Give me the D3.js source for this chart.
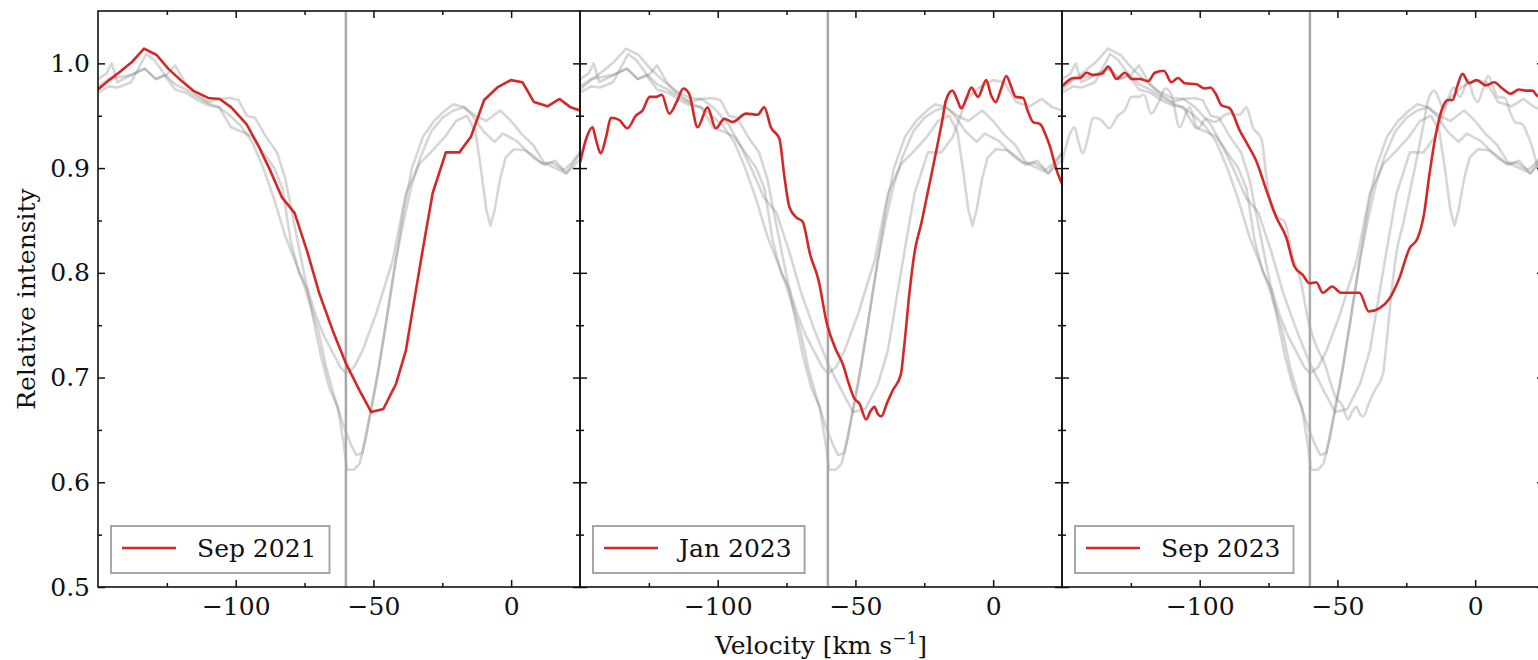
<!DOCTYPE html>
<html>
<head>
<meta charset="utf-8">
<script src="https://cdn.jsdelivr.net/npm/d3@7"></script>
<style>
  body { margin: 0; background: #fff; overflow: hidden; }
  svg { display: block; font-family: "DejaVu Serif", serif; }
</style>
</head>
<body>
<svg id="chart" width="1538" height="660"></svg>
<script>
// axis ranges and ticks
const velDomain = [-150, 25];
const intDomain = [0.5, 1.05];
const xMajor = [-100, -50, 0];
const xMinor = [-125, -75, -25];
const yMajor = [0.5, 0.6, 0.7, 0.8, 0.9, 1.0];
const yMinor = [0.55, 0.65, 0.75, 0.85, 0.95];
const refVelocity = -60;

// older epochs, always shown in gray
const baseDeep = [[-150,0.985],[-147,0.99],[-145,1.0],[-143,0.982],[-140,0.986],[-137,0.99],[-133,0.995],[-129,0.985],[-125,0.989],[-122,0.998],[-118,0.98],[-114,0.97],[-110,0.963],[-106,0.966],[-102,0.967],[-99,0.965],[-96,0.95],[-93,0.948],[-89,0.93],[-85,0.915],[-82,0.89],[-79,0.85],[-76,0.81],[-72,0.758],[-69,0.72],[-66,0.69],[-63,0.672],[-61,0.64],[-59.5,0.612],[-57,0.612],[-55,0.618],[-52.7,0.643],[-49,0.694],[-45.4,0.752],[-42,0.81],[-39,0.86],[-36,0.9],[-32,0.93],[-28,0.945],[-24,0.955],[-21,0.961],[-17,0.958],[-13,0.95],[-9,0.945],[-4,0.955],[0,0.945],[4,0.932],[8,0.922],[12,0.905],[16,0.9],[20,0.895],[25,0.908]];
const baseMid = [[-150,0.972],[-146,0.978],[-142.8,0.977],[-138,0.982],[-132.5,1.009],[-129.5,1.003],[-126,0.99],[-122,0.98],[-118,0.975],[-114,0.968],[-110,0.962],[-106,0.958],[-102,0.95],[-98,0.94],[-94,0.925],[-90,0.9],[-86,0.87],[-82,0.835],[-79,0.815],[-76,0.795],[-73,0.77],[-70,0.745],[-67.2,0.71],[-64,0.68],[-61,0.655],[-58,0.635],[-56.3,0.626],[-54,0.628],[-51.4,0.663],[-48,0.71],[-45,0.76],[-42,0.81],[-39,0.85],[-36,0.885],[-33,0.91],[-29,0.935],[-25,0.948],[-21,0.955],[-17,0.958],[-14,0.95],[-10,0.935],[-6,0.925],[-3,0.933],[2,0.926],[8,0.91],[12,0.903],[16,0.907],[20,0.895],[25,0.914]];
const baseShallow = [[-150,0.978],[-146,0.985],[-142,0.987],[-138,0.989],[-133,0.995],[-129,0.985],[-126,0.989],[-122,0.975],[-118,0.972],[-114,0.965],[-110,0.96],[-106,0.958],[-101.7,0.939],[-98,0.935],[-94,0.93],[-90,0.915],[-86,0.9],[-83,0.88],[-80,0.83],[-77,0.8],[-74,0.785],[-71,0.76],[-68,0.74],[-65,0.725],[-62,0.71],[-60,0.704],[-57,0.71],[-53.9,0.726],[-49,0.761],[-43,0.812],[-38.2,0.876],[-33.3,0.904],[-28.5,0.917],[-24,0.93],[-20,0.945],[-16,0.95],[-13,0.935],[-11,0.9],[-9,0.86],[-7.5,0.845],[-6,0.86],[-4,0.89],[-2,0.91],[1,0.918],[5,0.917],[8,0.912],[11,0.905],[15,0.905],[19,0.898],[22,0.905],[25,0.915]];

// highlighted epochs
const sep2021 = [[-150,0.975],[-146,0.984],[-142,0.992],[-137.8,1.001],[-133.3,1.014],[-128.7,1.008],[-124.5,0.995],[-120,0.984],[-115.5,0.974],[-110,0.967],[-105.8,0.966],[-101.6,0.958],[-96.1,0.942],[-91.9,0.922],[-87.7,0.899],[-83.2,0.872],[-78.6,0.857],[-74,0.82],[-69.6,0.78],[-64.8,0.745],[-59.9,0.713],[-55.1,0.688],[-50.8,0.667],[-46.4,0.670],[-41.8,0.694],[-38.2,0.726],[-34.6,0.783],[-32.1,0.822],[-28.5,0.876],[-23.7,0.915],[-18.8,0.915],[-14.6,0.930],[-9.8,0.965],[-5,0.977],[-0.1,0.984],[4.1,0.982],[8.3,0.963],[13.2,0.959],[17.6,0.966],[21.6,0.958],[25,0.955]];
const jan2023 = [[-150,0.905],[-147.5,0.93],[-145.5,0.939],[-144,0.925],[-142.5,0.914],[-140.5,0.93],[-138.8,0.948],[-135.8,0.946],[-132.8,0.938],[-129.7,0.950],[-127.3,0.955],[-124.7,0.968],[-122.5,0.968],[-120.3,0.970],[-117.6,0.952],[-114.6,0.965],[-112.5,0.976],[-110.4,0.971],[-107.3,0.939],[-103.7,0.958],[-100.7,0.938],[-97.6,0.947],[-94.6,0.944],[-89.7,0.952],[-85.5,0.951],[-83.1,0.958],[-80.7,0.939],[-77.6,0.928],[-75.8,0.892],[-74,0.863],[-71.5,0.853],[-69.2,0.849],[-66.4,0.817],[-63.4,0.793],[-60.4,0.752],[-57,0.726],[-54.6,0.713],[-52.5,0.695],[-50.4,0.680],[-48.5,0.675],[-46.1,0.660],[-44.5,0.668],[-43.1,0.672],[-41.8,0.665],[-40.6,0.663],[-38.5,0.676],[-36.4,0.688],[-33.5,0.703],[-32.3,0.73],[-30.3,0.783],[-28.5,0.82],[-26.1,0.847],[-23.1,0.885],[-20.6,0.917],[-18.5,0.945],[-17.1,0.965],[-14.8,0.974],[-13,0.965],[-11.6,0.957],[-9.5,0.968],[-7.9,0.977],[-5.5,0.968],[-2.5,0.984],[-0.8,0.97],[0.9,0.963],[2.8,0.975],[4.8,0.988],[6.5,0.978],[8.2,0.968],[10.9,0.967],[12.5,0.955],[14.5,0.944],[17.1,0.942],[19,0.932],[20.7,0.920],[22.8,0.9],[25,0.885]];
const sep2023 = [[-150,0.978],[-147.5,0.984],[-145.9,0.986],[-143.5,0.986],[-141.1,0.991],[-138.7,0.989],[-135.6,0.990],[-133.2,0.997],[-130.2,0.985],[-127.2,0.991],[-124.5,0.985],[-121.7,0.985],[-118.7,0.983],[-116.3,0.991],[-113,0.993],[-110.3,0.982],[-107.9,0.986],[-105.4,0.981],[-101.2,0.980],[-98.2,0.976],[-96.1,0.977],[-94,0.97],[-92.1,0.960],[-89.1,0.957],[-85.5,0.936],[-82.5,0.922],[-79.5,0.907],[-75.8,0.879],[-72.2,0.853],[-68.6,0.834],[-65.6,0.806],[-62.6,0.798],[-60.1,0.790],[-57.7,0.791],[-55.3,0.781],[-51.9,0.787],[-48.7,0.781],[-45,0.781],[-42,0.781],[-38.6,0.763],[-34.8,0.766],[-31.2,0.775],[-27.5,0.795],[-23.9,0.823],[-20.9,0.833],[-18.5,0.857],[-16.7,0.892],[-14.2,0.933],[-11.8,0.958],[-10,0.965],[-8.2,0.965],[-6.4,0.979],[-4.6,0.990],[-2.2,0.981],[0.5,0.984],[3.9,0.979],[6.9,0.982],[9.9,0.976],[12.9,0.971],[15.9,0.975],[18.4,0.974],[20.8,0.974],[22.6,0.969],[25,0.968]];

const panels = [
  { label: "Sep 2021", red: sep2021, smooth: false, gray: [[baseDeep, false], [baseMid, false], [baseShallow, false]] },
  { label: "Jan 2023", red: jan2023, smooth: true, gray: [[baseDeep, false], [baseMid, false], [baseShallow, false], [sep2021, false]] },
  { label: "Sep 2023", red: sep2023, smooth: true, gray: [[baseDeep, false], [baseMid, false], [baseShallow, false], [sep2021, false], [jan2023, true]] }
];

const svg = d3.select("#chart");
const mLeft = 98, mTop = 11, mBottom = 587, panelW = 482;
const plotH = mBottom - mTop;

const y = d3.scaleLinear().domain(intDomain).range([mBottom, mTop]);

const lineLin = x => d3.line().x(d => x(d[0])).y(d => y(d[1]));
const lineSmooth = x => d3.line().curve(d3.curveMonotoneX).x(d => x(d[0])).y(d => y(d[1]));

function styleAxis(g) {
  g.select(".domain").remove();
  g.selectAll(".tick line").attr("stroke", "#111").attr("stroke-width", 1.5);
  g.selectAll(".tick text").attr("fill", "#111").style("font-size", "25px").style("font-family", "DejaVu Serif");
}

panels.forEach((p, i) => {
  const x0 = mLeft + i * panelW;
  const x = d3.scaleLinear().domain(velDomain).range([x0, x0 + panelW]);
  const g = svg.append("g");

  const clipId = "clip" + i;
  svg.append("clipPath").attr("id", clipId)
    .append("rect").attr("x", x0).attr("y", mTop).attr("width", panelW).attr("height", plotH);
  const plot = g.append("g").attr("clip-path", `url(#${clipId})`);

  // gray comparison spectra
  p.gray.forEach(([d, smooth]) => {
    plot.append("path")
      .attr("d", (smooth ? lineSmooth(x) : lineLin(x))(d))
      .attr("fill", "none")
      .attr("stroke", "#808080")
      .attr("stroke-opacity", 0.32)
      .attr("stroke-width", 2.6)
      .attr("stroke-linejoin", "round");
  });

  // reference velocity
  plot.append("line")
    .attr("x1", x(refVelocity)).attr("x2", x(refVelocity))
    .attr("y1", mTop).attr("y2", mBottom)
    .attr("stroke", "#a9a9a9").attr("stroke-width", 2.5);

  plot.append("path")
    .attr("d", (p.smooth ? lineSmooth(x) : lineLin(x))(p.red))
    .attr("fill", "none")
    .attr("stroke", "#d62728")
    .attr("stroke-width", 2.6)
    .attr("stroke-linejoin", "round");

  // axes: inward ticks on all sides
  g.append("g").attr("transform", `translate(0,${mBottom})`)
    .call(d3.axisBottom(x).tickValues(xMajor).tickSize(-7).tickPadding(10).tickFormat(d3.format("d")))
    .call(styleAxis);
  g.append("g").attr("transform", `translate(0,${mBottom})`)
    .call(d3.axisBottom(x).tickValues(xMinor).tickSize(-4).tickFormat(""))
    .call(styleAxis);
  g.append("g").attr("transform", `translate(0,${mTop})`)
    .call(d3.axisTop(x).tickValues(xMajor).tickSize(-7).tickFormat(""))
    .call(styleAxis);
  g.append("g").attr("transform", `translate(0,${mTop})`)
    .call(d3.axisTop(x).tickValues(xMinor).tickSize(-4).tickFormat(""))
    .call(styleAxis);

  g.append("g").attr("transform", `translate(${x0},0)`)
    .call(d3.axisLeft(y).tickValues(yMajor).tickSize(-7).tickPadding(8)
      .tickFormat(i === 0 ? d3.format(".1f") : ""))
    .call(styleAxis);
  g.append("g").attr("transform", `translate(${x0},0)`)
    .call(d3.axisLeft(y).tickValues(yMinor).tickSize(-4).tickFormat(""))
    .call(styleAxis);
  g.append("g").attr("transform", `translate(${x0 + panelW},0)`)
    .call(d3.axisRight(y).tickValues(yMajor).tickSize(-7).tickFormat(""))
    .call(styleAxis);
  g.append("g").attr("transform", `translate(${x0 + panelW},0)`)
    .call(d3.axisRight(y).tickValues(yMinor).tickSize(-4).tickFormat(""))
    .call(styleAxis);

  g.append("rect")
    .attr("x", x0).attr("y", mTop).attr("width", panelW).attr("height", plotH)
    .attr("fill", "none").attr("stroke", "#111").attr("stroke-width", 1.6);

  // legend
  const lg = g.append("g").attr("transform", `translate(${x0 + 13},526)`);
  const box = lg.append("rect").attr("height", 47)
    .attr("fill", "#fff").attr("fill-opacity", 0.8)
    .attr("stroke", "#a6a6a6").attr("stroke-width", 2);
  lg.append("line").attr("x1", 11).attr("x2", 65).attr("y1", 22).attr("y2", 22)
    .attr("stroke", "#d62728").attr("stroke-width", 2.6);
  const t = lg.append("text").attr("x", 86).attr("y", 31)
    .style("font-size", "25px").attr("fill", "#111").text(p.label);
  box.attr("width", 86 + t.node().getComputedTextLength() + 13);
});

// axis titles
svg.append("text")
  .attr("transform", `translate(35,${(mTop + mBottom) / 2}) rotate(-90)`)
  .attr("text-anchor", "middle")
  .style("font-size", "25px").attr("fill", "#111")
  .text("Relative intensity");

const xl = svg.append("text")
  .attr("x", mLeft + 1.5 * panelW).attr("y", 654)
  .attr("text-anchor", "middle")
  .style("font-size", "25px").attr("fill", "#111");
xl.append("tspan").text("Velocity [km s");
xl.append("tspan").attr("dy", -10).style("font-size", "17px").text("−1");
xl.append("tspan").attr("dy", 10).text("]");
</script>
</body>
</html>
